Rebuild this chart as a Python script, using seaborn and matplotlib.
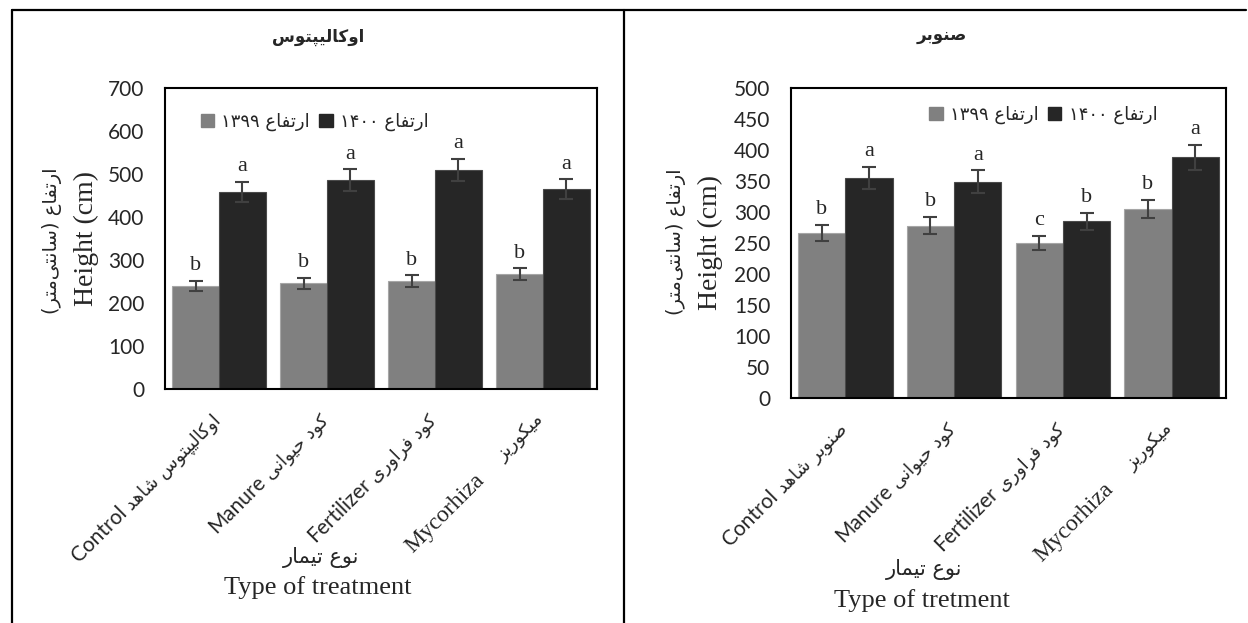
import re
import numpy as np
import pandas as pd
import matplotlib
matplotlib.use("Agg")
import matplotlib.pyplot as plt
import seaborn as sns
from matplotlib import font_manager, ft2font
from matplotlib.patches import Patch
from matplotlib.lines import Line2D

################ DATA ################

treatments = ['Control', 'Manure', 'Fertilizer', 'Mycorhiza']
years = ['1399', '1400']

# Eucalyptus (left panel)
euc_1399 = [240, 246, 251, 267]
euc_1400 = [458, 486, 509, 465]
euc_1399_err = [12, 13, 13, 14]
euc_1400_err = [24, 25, 26, 23]
euc_1399_letters = ['b', 'b', 'b', 'b']
euc_1400_letters = ['a', 'a', 'a', 'a']

# Poplar (right panel)
pop_1399 = [266, 278, 250, 305]
pop_1400 = [355, 349, 285, 388]
pop_1399_err = [13, 14, 12, 15]
pop_1400_err = [18, 18, 14, 20]
pop_1399_letters = ['b', 'b', 'c', 'b']
pop_1400_letters = ['a', 'a', 'b', 'a']

euc_ticks_fa = ['اوکالیپتوس شاهد', 'کود حیوانی', 'کود فراوری', 'میکوریز']
pop_ticks_fa = ['صنوبر شاهد', 'کود حیوانی', 'کود فراوری', 'میکوریز']

################ MINIMAL PERSIAN SHAPING (matplotlib has no bidi) ################

FORMS = {
    'ا': (0xFE8D, 0xFE8E, None, None), 'ب': (0xFE8F, 0xFE90, 0xFE91, 0xFE92),
    'پ': (0xFB56, 0xFB57, 0xFB58, 0xFB59), 'ت': (0xFE95, 0xFE96, 0xFE97, 0xFE98),
    'ث': (0xFE99, 0xFE9A, 0xFE9B, 0xFE9C), 'ج': (0xFE9D, 0xFE9E, 0xFE9F, 0xFEA0),
    'ح': (0xFEA1, 0xFEA2, 0xFEA3, 0xFEA4), 'خ': (0xFEA5, 0xFEA6, 0xFEA7, 0xFEA8),
    'د': (0xFEA9, 0xFEAA, None, None), 'ذ': (0xFEAB, 0xFEAC, None, None),
    'ر': (0xFEAD, 0xFEAE, None, None), 'ز': (0xFEAF, 0xFEB0, None, None),
    'س': (0xFEB1, 0xFEB2, 0xFEB3, 0xFEB4), 'ش': (0xFEB5, 0xFEB6, 0xFEB7, 0xFEB8),
    'ص': (0xFEB9, 0xFEBA, 0xFEBB, 0xFEBC), 'ض': (0xFEBD, 0xFEBE, 0xFEBF, 0xFEC0),
    'ط': (0xFEC1, 0xFEC2, 0xFEC3, 0xFEC4), 'ظ': (0xFEC5, 0xFEC6, 0xFEC7, 0xFEC8),
    'ع': (0xFEC9, 0xFECA, 0xFECB, 0xFECC), 'غ': (0xFECD, 0xFECE, 0xFECF, 0xFED0),
    'ف': (0xFED1, 0xFED2, 0xFED3, 0xFED4), 'ق': (0xFED5, 0xFED6, 0xFED7, 0xFED8),
    'ک': (0xFB8E, 0xFB8F, 0xFB90, 0xFB91), 'گ': (0xFB92, 0xFB93, 0xFB94, 0xFB95),
    'ل': (0xFEDD, 0xFEDE, 0xFEDF, 0xFEE0), 'م': (0xFEE1, 0xFEE2, 0xFEE3, 0xFEE4),
    'ن': (0xFEE5, 0xFEE6, 0xFEE7, 0xFEE8), 'و': (0xFEED, 0xFEEE, None, None),
    'ه': (0xFEE9, 0xFEEA, 0xFEEB, 0xFEEC), 'ی': (0xFBFC, 0xFBFD, 0xFBFE, 0xFBFF),
}

# fall back to arabic kaf / yeh forms if the font lacks the persian ones
_cmap = ft2font.FT2Font(font_manager.findfont('DejaVu Sans')).get_charmap()
if 0xFB8E not in _cmap:
    FORMS['ک'] = (0xFED9, 0xFEDA, 0xFEDB, 0xFEDC)
if 0xFBFC not in _cmap:
    FORMS['ی'] = (0xFEEF, 0xFEF0, 0xFEF3, 0xFEF4)

MIRROR = str.maketrans('()', ')(')
DIGITS = '0-9\u06F0-\u06F9'


def shape(word):
    out = []
    for i, ch in enumerate(word):
        f = FORMS.get(ch)
        if f is None:
            out.append(ch)
            continue
        prev = word[i - 1] if i > 0 else None
        nxt = word[i + 1] if i < len(word) - 1 else None
        jp = prev in FORMS and FORMS[prev][2] is not None
        jn = nxt in FORMS and f[2] is not None
        if jp and jn:
            c = f[3]
        elif jp:
            c = f[1]
        elif jn:
            c = f[2]
        else:
            c = f[0]
        out.append(chr(c))
    return ''.join(out).replace('\u200c', '')


def fa(text):
    s = shape(text)
    runs = re.findall('[' + DIGITS + ']+|[^' + DIGITS + ']+', s)
    vis = []
    for r in reversed(runs):
        if re.match('[' + DIGITS + ']', r):
            vis.append(r)
        else:
            vis.append(r[::-1].translate(MIRROR))
    return ''.join(vis)


################ STYLE ################

sns.set_style('white')
plt.rcParams['font.family'] = ['Lato', 'DejaVu Sans']
SANS = ['Lato', 'DejaVu Sans']
SERIF = ['Liberation Serif', 'DejaVu Sans']
FAFONT = ['DejaVu Sans']

GRAY = '#808080'
DARK = '#262626'
W, H = 1248, 623
FA_TICK_SIZE = 13

fig = plt.figure(figsize=(W / 100, H / 100), dpi=100)
renderer = fig.canvas.get_renderer()


def px(x, y):
    return x / W, 1 - y / H


def text_width_pt(s, **kw):
    tmp = fig.text(0, 0, s, **kw)
    w = tmp.get_window_extent(renderer).width
    tmp.remove()
    return w * 72 / fig.dpi


################ PANEL FUNCTION ################

def draw_panel(rect, v1399, v1400, e1399, e1400, l1399, l1400, ticks_fa, ymax, ystep,
               legend_xy):
    left, top, right, bottom = rect
    ax = fig.add_axes([left / W, 1 - bottom / H, (right - left) / W, (bottom - top) / H])

    df = pd.DataFrame({
        'treatment': treatments * 2,
        'year': [years[0]] * 4 + [years[1]] * 4,
        'height': v1399 + v1400,
    })
    sns.barplot(data=df, x='treatment', y='height', hue='year', palette=[GRAY, DARK],
                width=0.87, errorbar=None, legend=False, ax=ax, saturation=1)

    for cont, errs, letters, ec in zip(ax.containers, [e1399, e1400], [l1399, l1400],
                                       ['#a6a6a6', '#4a4a4a']):
        for bar, err, let in zip(cont, errs, letters):
            bar.set_edgecolor(ec)
            bar.set_linewidth(0.8)
            xc = bar.get_x() + bar.get_width() / 2
            h = bar.get_height()
            ax.errorbar(xc, h, yerr=err, fmt='none', ecolor='#404040', elinewidth=1.5,
                        capsize=5, capthick=1.5, zorder=5)
            ax.annotate(let, (xc, h + err), xytext=(0, 4), textcoords='offset points',
                        ha='center', va='bottom', fontsize=16, family=SERIF)

    ax.set_xlim(-0.5, 3.5)
    ax.set_ylim(0, ymax)
    ax.set_yticks(np.arange(0, ymax + 1, ystep))
    ax.tick_params(axis='y', direction='in', length=6, width=1.2, pad=15, labelsize=15)

    # category labels: latin word + persian words, rotated 45 degrees
    ax.set_xticks(range(4))
    ax.set_xticklabels([''] * 4)
    ax.set_xticks([0.5, 1.5, 2.5], minor=True)
    ax.tick_params(axis='x', which='major', length=0)
    ax.tick_params(axis='x', which='minor', direction='in', length=6, width=1.2)

    xtr = ax.get_xaxis_transform()
    ox, oy = 1.5, -23
    for i in range(4):
        s_fa = fa(ticks_fa[i])
        ax.annotate(s_fa, xy=(i, 0), xycoords=xtr, xytext=(ox, oy),
                    textcoords='offset points', rotation=45, rotation_mode='anchor',
                    ha='right', va='baseline', fontsize=FA_TICK_SIZE, family=FAFONT,
                    annotation_clip=False)
        gap = 19 if i == 3 else 4
        L = text_width_pt(s_fa, fontsize=FA_TICK_SIZE, family=FAFONT) + gap
        d = L * np.sqrt(0.5)
        ax.annotate(treatments[i], xy=(i, 0), xycoords=xtr, xytext=(ox - d, oy - d),
                    textcoords='offset points', rotation=45, rotation_mode='anchor',
                    ha='right', va='baseline',
                    fontsize=17 if i == 3 else 15, family=SERIF if i == 3 else SANS,
                    annotation_clip=False)

    ax.set_xlabel('')
    ax.set_ylabel('')
    for sp in ax.spines.values():
        sp.set_visible(True)
        sp.set_color('black')
        sp.set_linewidth(1.5)

    handles = [Patch(facecolor=GRAY, edgecolor=GRAY), Patch(facecolor=DARK, edgecolor=DARK)]
    ax.legend(handles, [fa('ارتفاع ۱۳۹۹'), fa('ارتفاع ۱۴۰۰')], ncol=2, loc='center',
              bbox_to_anchor=legend_xy, frameon=False, prop={'family': FAFONT, 'size': 13},
              handlelength=0.75, handleheight=0.75, handletextpad=0.4, columnspacing=0.5)
    return ax


################ LEFT PANEL: EUCALYPTUS ################

draw_panel((165, 88, 597, 389), euc_1399, euc_1400, euc_1399_err, euc_1400_err,
           euc_1399_letters, euc_1400_letters, euc_ticks_fa, 700, 100, (0.346, 0.887))

fig.text(*px(318, 37), fa('اوکالیپتوس'), ha='center', va='center', fontsize=12,
         weight='bold', family=FAFONT)
fig.text(*px(52, 241), fa('ارتفاع (سانتی\u200cمتر)'), rotation=90, ha='center', va='center',
         fontsize=14, family=FAFONT)
fig.text(*px(86, 239), 'Height (cm)', rotation=90, ha='center', va='center',
         fontsize=20, family=SERIF)
fig.text(*px(321, 558), fa('نوع تیمار'), ha='center', va='center', fontsize=15, family=FAFONT)
fig.text(*px(318, 588), 'Type of treatment', ha='center', va='center', fontsize=19,
         family=SERIF)

################ RIGHT PANEL: POPLAR ################

draw_panel((791, 88, 1226, 398), pop_1399, pop_1400, pop_1399_err, pop_1400_err,
           pop_1399_letters, pop_1400_letters, pop_ticks_fa, 500, 50, (0.58, 0.913))

fig.text(*px(942, 35), fa('صنوبر'), ha='center', va='center', fontsize=12,
         weight='bold', family=FAFONT)
fig.text(*px(676, 242), fa('ارتفاع (سانتی\u200cمتر)'), rotation=90, ha='center', va='center',
         fontsize=14, family=FAFONT)
fig.text(*px(710, 242), 'Height (cm)', rotation=90, ha='center', va='center',
         fontsize=20, family=SERIF)
fig.text(*px(924, 569), fa('نوع تیمار'), ha='center', va='center', fontsize=15, family=FAFONT)
fig.text(*px(922, 601), 'Type of tretment', ha='center', va='center', fontsize=19,
         family=SERIF)

################ PANEL FRAME LINES ################

for xs, ys in [((12, 1246), (10, 10)), ((12, 12), (10, 623)), ((624, 624), (10, 623))]:
    fig.add_artist(Line2D([x / W for x in xs], [1 - y / H for y in ys], color='black',
                          linewidth=1.6, transform=fig.transFigure))

fig.savefig('out.png', dpi=100)
